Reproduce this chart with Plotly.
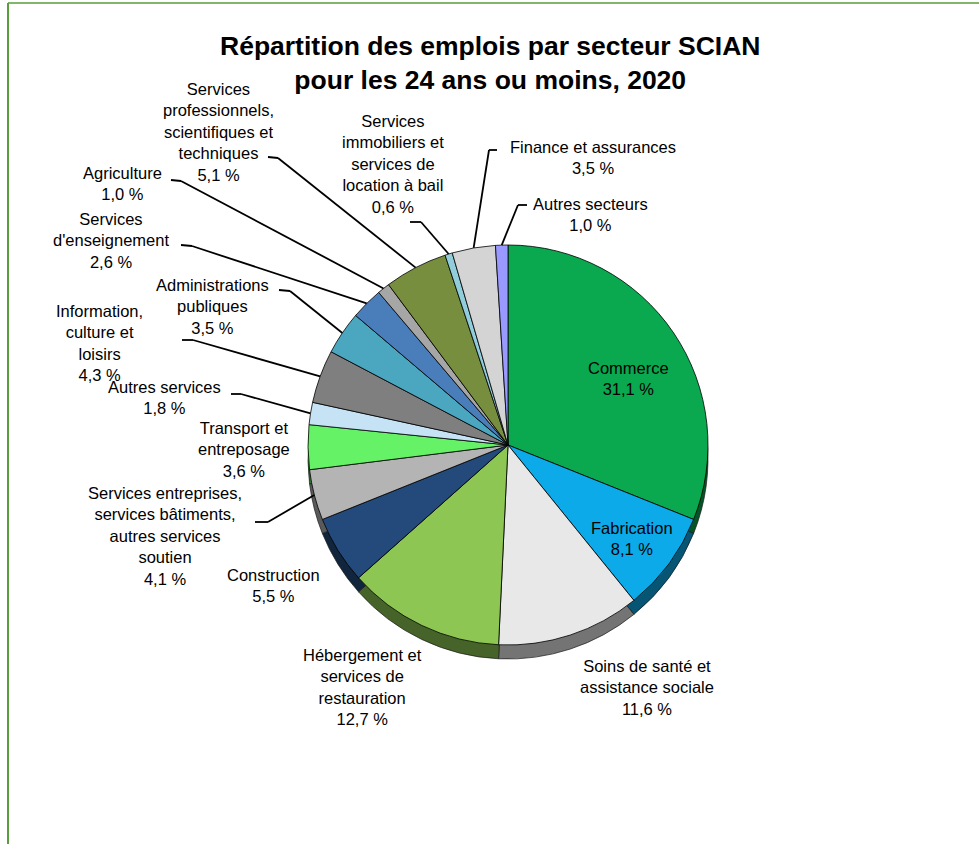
import math
import plotly.graph_objects as go

W, H = 979, 844

# ---------------- data ----------------
sectors = [
    "Commerce",
    "Fabrication",
    "Soins de santé et<br>assistance sociale",
    "Hébergement et<br>services de<br>restauration",
    "Construction",
    "Services entreprises,<br>services bâtiments,<br>autres services<br>soutien",
    "Transport et<br>entreposage",
    "Autres services",
    "Information,<br>culture et<br>loisirs",
    "Administrations<br>publiques",
    "Services<br>d'enseignement",
    "Agriculture",
    "Services<br>professionnels,<br>scientifiques et<br>techniques",
    "Services<br>immobiliers et<br>services de<br>location à bail",
    "Finance et assurances",
    "Autres secteurs",
]
values = [31.1, 8.1, 11.6, 12.7, 5.5, 4.1, 3.6, 1.8, 4.3, 3.5, 2.6, 1.0, 5.1, 0.6, 3.5, 1.0]

# ---------------- styles / layout ----------------
colors = [
    "#0BA94F", "#0CAAE8", "#E8E8E8", "#8DC652", "#234A7A", "#B4B4B4",
    "#66F266", "#C6E3F5", "#7F7F7F", "#4BA7C0", "#4A7EBB", "#A6A6A6",
    "#778E3E", "#92CDDC", "#D4D4D4", "#9999FF",
]

def darken(hexc, f=0.5):
    hexc = hexc.lstrip("#")
    r, g, b = (int(hexc[i:i + 2], 16) for i in (0, 2, 4))
    return "#%02X%02X%02X" % (int(r * f), int(g * f), int(b * f))

side_colors = [darken(c, 0.5) for c in colors]

CX, CY, R = 508, 445, 200
DEPTH = 14

# label block centres (pixels)
label_pos = [
    (628, 378), (632, 538), (647, 687), (362, 687), (273, 585), (165, 536),
    (244, 449), (164, 398), (99, 343), (212, 306), (111, 240), (122, 183),
    (218, 132), (393, 164), (593, 157), (590, 214),
]
# leader lines: (start, elbow) or None
leaders = [
    None, None, None, None, None,
    ((255, 522), (268, 522)),
    None,
    ((231, 394), (241, 394)),
    ((182, 340), (193, 340)),
    ((279, 290), (290, 291)),
    ((181, 245), (192, 246)),
    ((171, 180), (181, 181)),
    ((268, 157), (278, 158)),
    ((410, 222), (421, 222)),
    ((497, 150), (489, 150)),
    ((527, 205), (518, 205)),
]

FONT = "Liberation Sans, Arial, sans-serif"


def px(x):
    return x / W


def py(y):
    return 1 - y / H


def fmt(v):
    return ("%.1f" % v).replace(".", ",") + " %"


fig = go.Figure()

# side wall (shifted copy)
fig.add_trace(go.Pie(
    values=values, labels=[s.replace("<br>", " ") for s in sectors],
    sort=False, direction="clockwise", rotation=0,
    textinfo="none", hoverinfo="skip",
    marker=dict(colors=side_colors, line=dict(color="#1A1A1A", width=0.7)),
    domain=dict(x=[px(CX - R), px(CX + R)], y=[py(CY + DEPTH + R), py(CY + DEPTH - R)]),
    showlegend=False,
))

# top face
fig.add_trace(go.Pie(
    values=values, labels=[s.replace("<br>", " ") for s in sectors],
    sort=False, direction="clockwise", rotation=0,
    textinfo="none",
    hovertemplate="%{label}<br>%{value:.1f} %<extra></extra>",
    marker=dict(colors=colors, line=dict(color="#000000", width=0.8)),
    domain=dict(x=[px(CX - R), px(CX + R)], y=[py(CY + R), py(CY - R)]),
    showlegend=False,
))

total = sum(values)
cum = 0.0
shapes = []
annotations = []
for i, v in enumerate(values):
    mid = (cum + v / 2) / total * 2 * math.pi
    cum += v
    lx, ly = label_pos[i]
    annotations.append(dict(
        x=px(lx), y=py(ly), xref="paper", yref="paper",
        text=sectors[i] + "<br>" + fmt(v), showarrow=False,
        xanchor="center", yanchor="middle", align="center",
        font=dict(family=FONT, size=16.5, color="#000000"),
    ))
    if leaders[i] is not None:
        (sx, sy), (ex, ey) = leaders[i]
        tx = CX + R * math.sin(mid)
        ty = CY - R * math.cos(mid)
        for (x0, y0, x1, y1) in [(sx, sy, ex, ey), (ex, ey, tx, ty)]:
            shapes.append(dict(
                type="line", xref="paper", yref="paper",
                x0=px(x0), y0=py(y0), x1=px(x1), y1=py(y1),
                line=dict(color="#000000", width=1.8),
            ))

# green frame
shapes.append(dict(type="line", xref="paper", yref="paper",
                   x0=px(8), y0=py(H + 5), x1=px(8), y1=py(3),
                   line=dict(color="#5A9E3C", width=2)))
shapes.append(dict(type="line", xref="paper", yref="paper",
                   x0=px(8), y0=py(3), x1=px(W + 5), y1=py(3),
                   line=dict(color="#5A9E3C", width=1.5)))

annotations.append(dict(
    x=px(490), y=py(63), xref="paper", yref="paper",
    text="<b>Répartition des emplois par secteur SCIAN<br>pour les 24 ans ou moins, 2020</b>",
    showarrow=False, xanchor="center", yanchor="middle", align="center",
    font=dict(family=FONT, size=26.5, color="#000000"),
))

fig.update_layout(
    width=W, height=H,
    margin=dict(l=0, r=0, t=0, b=0),
    paper_bgcolor="#FFFFFF", plot_bgcolor="#FFFFFF",
    shapes=shapes, annotations=annotations,
    showlegend=False,
)

fig.write_html(
    "out.html",
    config={"displayModeBar": False},
    post_script="document.body.style.margin='0';document.body.style.overflow='hidden';",
)
